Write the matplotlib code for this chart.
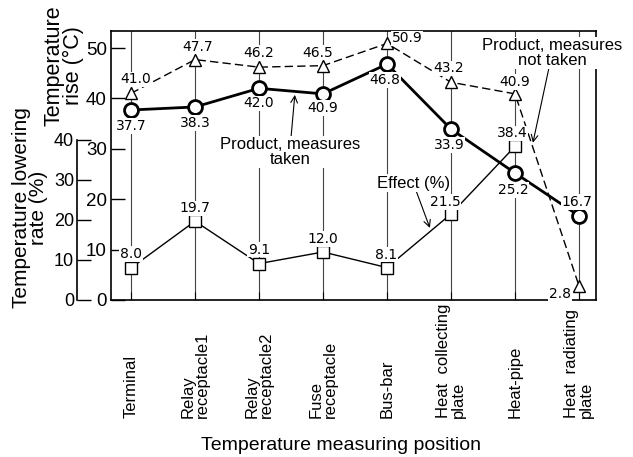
import matplotlib
matplotlib.use("Agg")
import matplotlib.pyplot as plt
from matplotlib.transforms import blended_transform_factory

# 温度测定位置
positions = ["Terminal", "Relay\nreceptacle1", "Relay\nreceptacle2", "Fuse\nreceptacle",
             "Bus-bar", "Heat  collecting\nplate", "Heat-pipe", "Heat  radiating\nplate"]
# 温升 (°C)
not_taken = [41.0, 47.7, 46.2, 46.5, 50.9, 43.2, 40.9, 2.8]
taken = [37.7, 38.3, 42.0, 40.9, 46.8, 33.9, 25.2, 16.7]
# 降温率 (%)
effect = [8.0, 19.7, 9.1, 12.0, 8.1, 21.5, 38.4]

inner_ticks = [0, 10, 20, 30, 40, 50]
outer_ticks = [0, 10, 20, 30, 40]

# 数值标注的偏移 (像素)
off_not_taken = [(5, 14), (3, 13), (0, 14), (-5, 13), (20, 5), (-2, 14), (0, 12), (-19, -8)]
off_taken = [(0, -16), (0, -16), (0, -15), (0, -14), (-2, -16), (-2, -16), (-2, -17), (-2, 14)]
off_effect = [(0, 14), (0, 13), (0, 14), (0, 13), (-1, 13), (-6, 12), (-3, 13)]

SANS = "Liberation Sans"
NUM = "DejaVu Sans"

fig = plt.figure(figsize=(6.33, 4.57), dpi=100)
ax = fig.add_axes([111 / 633, 157 / 457, 485 / 633, 269 / 457])
ax2 = ax.twinx()

x = list(range(len(positions)))

# 竖线
for xi in x:
    ax.axvline(xi, color="#444444", lw=0.8, zorder=0)

ax.plot(x, not_taken, color="black", lw=1.0, ls=(0, (6, 3)), marker="^", ms=8,
        mfc="white", mec="black", mew=1.0, zorder=3)
ax.plot(x, taken, color="black", lw=2.0, marker="o", ms=10,
        mfc="white", mec="black", mew=2.0, zorder=3)
ax2.plot(x[:len(effect)], effect, color="black", lw=1.0, marker="s", ms=9,
         mfc="white", mec="black", mew=1.0, zorder=3)

box = dict(fc="white", ec="none", pad=0.5)
for xi, v, off in zip(x, not_taken, off_not_taken):
    ax.annotate(f"{v:.1f}", (xi, v), xytext=off, textcoords="offset pixels",
                ha="center", va="center", fontsize=10, family=NUM, bbox=box, zorder=4)
for xi, v, off in zip(x, taken, off_taken):
    ax.annotate(f"{v:.1f}", (xi, v), xytext=off, textcoords="offset pixels",
                ha="center", va="center", fontsize=10, family=NUM, bbox=box, zorder=4)
for xi, v, off in zip(x, effect, off_effect):
    ax2.annotate(f"{v:.1f}", (xi, v), xytext=off, textcoords="offset pixels",
                 ha="center", va="center", fontsize=10, family=NUM, bbox=box, zorder=4)

arrow = dict(arrowstyle="->", lw=0.8, color="black", shrinkA=0, shrinkB=0)
ax.annotate("Product, measures\ntaken", (2.56, 40.7), xytext=(2.48, 29.4),
            ha="center", va="center", fontsize=12, family=SANS, linespacing=0.95,
            bbox=dict(fc="white", ec="none", pad=1), arrowprops=arrow, zorder=4)
ax.annotate("Product, measures\nnot taken", (6.28, 31.2), xytext=(6.58, 49.0),
            ha="center", va="center", fontsize=12, family=SANS, linespacing=0.95,
            bbox=dict(fc="white", ec="none", pad=1), arrowprops=arrow, zorder=4)
ax.annotate("Effect (%)", (4.67, 14.3), xytext=(4.41, 23.2),
            ha="center", va="center", fontsize=12, family=SANS,
            bbox=dict(fc="white", ec="none", pad=1), arrowprops=arrow, zorder=4)

# 坐标轴
ax.set_xlim(-20 / 64, 7 + 17 / 64)
ax.set_ylim(0, 269 / 5.04)
ax2.set_ylim(0, 269 / 4)

ax.set_xticks(x)
ax.set_xticklabels([])
ax.tick_params(axis="x", direction="in", length=6, width=0.8)
ax.set_yticks(inner_ticks)
ax.tick_params(axis="y", direction="in", length=10, width=1.0, pad=3, labelsize=13.5)
for lab in ax.get_yticklabels():
    lab.set_family(SANS)
for sp in ax.spines.values():
    sp.set_linewidth(1.2)

for side in ["right", "top", "bottom"]:
    ax2.spines[side].set_visible(False)
ax2.spines["left"].set_visible(True)
ax2.spines["left"].set_position(("axes", -34 / 485))
ax2.spines["left"].set_bounds(0, 40)
ax2.spines["left"].set_linewidth(1.2)
ax2.yaxis.set_ticks_position("left")
ax2.set_yticks(outer_ticks)
ax2.tick_params(axis="y", direction="in", length=10, width=1.0, pad=2, labelsize=13)
for lab in ax2.get_yticklabels():
    lab.set_family(SANS)

trans = blended_transform_factory(ax.transData, ax.transAxes)
for xi, lab in zip(x, positions):
    ax.text(xi, -0.4387, lab, transform=trans, rotation=90, ha="center", va="bottom",
            multialignment="left", fontsize=12, family=SANS, linespacing=0.95)

fig.text(64 / 633, 1 - 66 / 457, "Temperature\nrise (°C)", rotation=90, ha="center",
         va="center", fontsize=15.5, family=SANS, linespacing=0.9)
fig.text(30 / 633, 1 - 208 / 457, "Temperature lowering\nrate (%)", rotation=90,
         ha="center", va="center", fontsize=15, family=SANS, linespacing=0.9)
fig.text(341 / 633, 1 - 445 / 457, "Temperature measuring position", ha="center",
         va="center", fontsize=14, family=SANS)

fig.savefig("out.png", dpi=100)
